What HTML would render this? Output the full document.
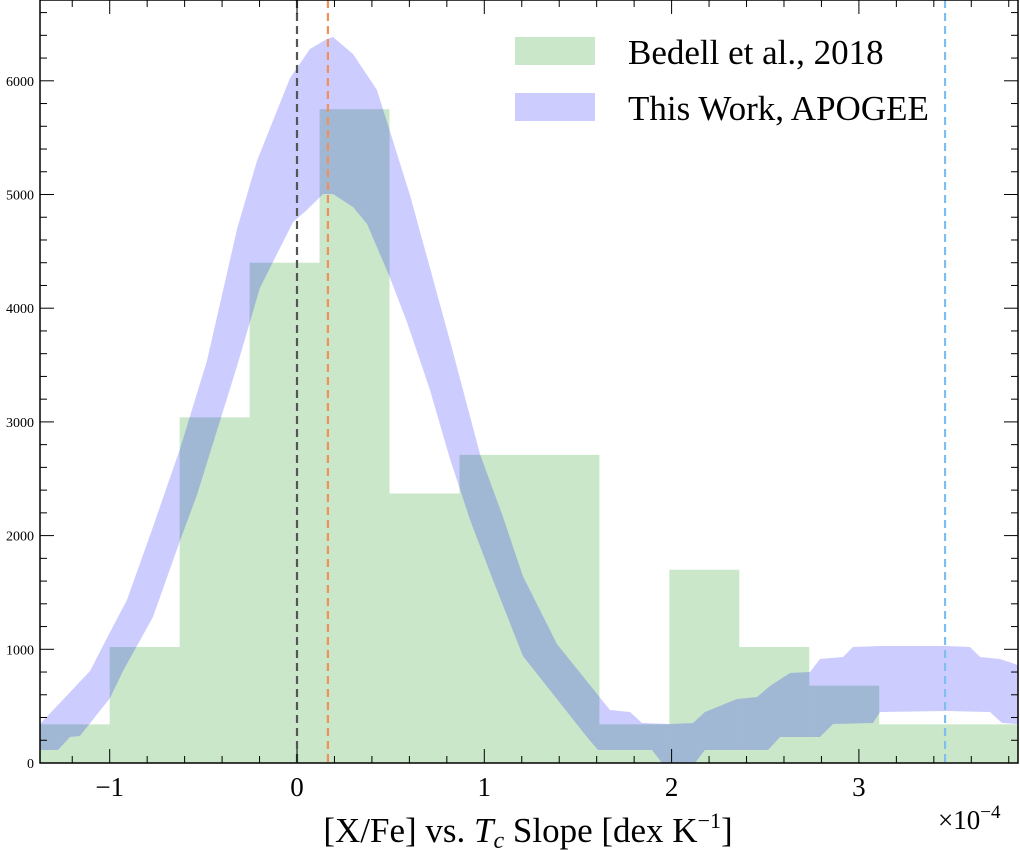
<!DOCTYPE html>
<html><head><meta charset="utf-8"><style>
body{margin:0;background:#fff}
svg{display:block;font-family:"Liberation Serif",serif}
</style></head><body>
<svg id="c" width="1020" height="850"></svg>
<script>
const binEdges=[-1.3735,-1,-0.6265,-0.253,0.1205,0.494,0.8675,1.241,1.6145,1.988,2.3615,2.735,3.1085,3.482,3.855];
const binCounts=[340,1020,3040,4400,5750,2370,2710,2710,340,1700,1020,680,340,340];
const bandUpperX=[-1.372,-1.105,-0.998,-0.908,-0.769,-0.625,-0.481,-0.320,-0.214,-0.037,0.069,0.160,0.192,0.299,0.427,0.603,0.817,0.977,1.100,1.206,1.388,1.671,1.778,1.842,1.991,2.114,2.178,2.349,2.456,2.525,2.632,2.739,2.792,2.915,2.968,3.113,3.470,3.593,3.647,3.753,3.849];
const bandUpperY=[343,809,1152,1434,2076,2762,3536,4697,5295,6025,6280,6368,6385,6236,5919,4996,3712,2718,2164,1645,1047,466,449,352,343,352,449,563,580,677,792,800,915,932,1020,1029,1029,1020,932,915,862];
const bandLowerX=[-1.372,-1.276,-1.212,-1.159,-0.998,-0.929,-0.769,-0.625,-0.534,-0.320,-0.198,-0.021,0.053,0.139,0.192,0.299,0.374,0.497,0.587,0.710,0.817,0.924,1.046,1.206,1.548,1.607,1.895,1.949,2.125,2.178,2.515,2.579,2.792,2.862,3.075,3.113,3.470,3.700,3.764,3.849];
const bandLowerY=[114,114,229,237,572,809,1284,1953,2357,3492,4178,4758,4864,5004,5004,4890,4741,4266,3879,3281,2674,2137,1610,941,229,114,114,0,0,114,114,229,229,343,352,449,457,449,352,343];
const xTicks=[-1,0,1,2,3];
const yTicks=[0,1000,2000,3000,4000,5000,6000];
const vLines=[0,0.165,3.46];
const L=40,R=1018,T=0,B=763;
const X=v=>297+v*187.3, Y=v=>B-v*0.1137;
const svg=document.getElementById('c');const NS='http://www.w3.org/2000/svg';
function mk(t,a,p){const e=document.createElementNS(NS,t);for(const k in a)e.setAttribute(k,a[k]);(p||svg).appendChild(e);return e;}
const clip=mk('clipPath',{id:'cp'});mk('rect',{x:L,y:T,width:R-L,height:B-T},clip);
const g=mk('g',{'clip-path':'url(#cp)'});
binCounts.forEach((c,i)=>{const r=mk('rect',{x:X(binEdges[i]),y:Y(c),width:X(binEdges[i+1])-X(binEdges[i]),height:B-Y(c),fill:'rgba(44,160,44,0.25)'},g);

});
let d='M'+bandUpperX.map((x,i)=>X(x)+','+Y(bandUpperY[i])).join('L');
for(let i=bandLowerX.length-1;i>=0;i--)d+='L'+X(bandLowerX[i])+','+Y(bandLowerY[i]);
const band=mk('path',{d:d+'Z',fill:'rgba(0,0,255,0.2)'},g);


const cols=['#555','#f0905a','#7fbff0'];
vLines.forEach((v,i)=>{const l=mk('line',{x1:X(v),x2:X(v),y1:T,y2:B,stroke:cols[i],'stroke-width':2.2,'stroke-dasharray':'8,5'},g);

});
mk('rect',{x:L,y:T,width:R-L,height:B-T,fill:'none',stroke:'#000','stroke-width':1.5});
for(let v=-1.2;v<=3.85;v+=0.2){const x=X(+v.toFixed(1));const maj=Math.abs(v-Math.round(v))<1e-6;const s=maj?14:7;
mk('line',{x1:x,x2:x,y1:B,y2:B-s,stroke:'#000','stroke-width':1});mk('line',{x1:x,x2:x,y1:T,y2:T+s,stroke:'#000','stroke-width':1});}
for(let v=200;v<=6600;v+=200){const y=Y(v);const s=v%1000===0?14:7;
mk('line',{x1:L,x2:L+s,y1:y,y2:y,stroke:'#000','stroke-width':1});mk('line',{x1:R,x2:R-s,y1:y,y2:y,stroke:'#000','stroke-width':1});}
xTicks.forEach(v=>{const t=mk('text',{x:X(v),y:796,'font-size':27,'text-anchor':'middle'});t.textContent=(v<0?'\u2212':'')+Math.abs(v);

});
yTicks.forEach(v=>{const t=mk('text',{x:34,y:Y(v)+5,'font-size':14,'text-anchor':'end'});t.textContent=v;

});
</script>
<svg width="1020" height="850" style="position:absolute;left:0;top:0">
<text x="528" y="842" font-size="35" text-anchor="middle" font-family="Liberation Serif,serif">[X/Fe] vs. <tspan font-style="italic">T</tspan><tspan font-size="24" dy="6" font-style="italic">c</tspan><tspan dy="-6"> Slope [dex K</tspan><tspan font-size="22" dy="-14">−1</tspan><tspan dy="14">]</tspan></text>
<text x="938" y="829" font-size="27" font-family="Liberation Serif,serif">×10<tspan font-size="19" dy="-11">−4</tspan></text>
<g>
<rect x="515" y="37" width="80" height="28" fill="rgba(44,160,44,0.25)"/>
<text x="628" y="64" font-size="35" font-family="Liberation Serif,serif">Bedell et al., 2018</text>
<rect x="515" y="93" width="80" height="28" fill="rgba(0,0,255,0.2)"/>
<text x="628" y="120" font-size="35" font-family="Liberation Serif,serif">This Work, APOGEE</text>
</g>
</svg>
</body></html>
